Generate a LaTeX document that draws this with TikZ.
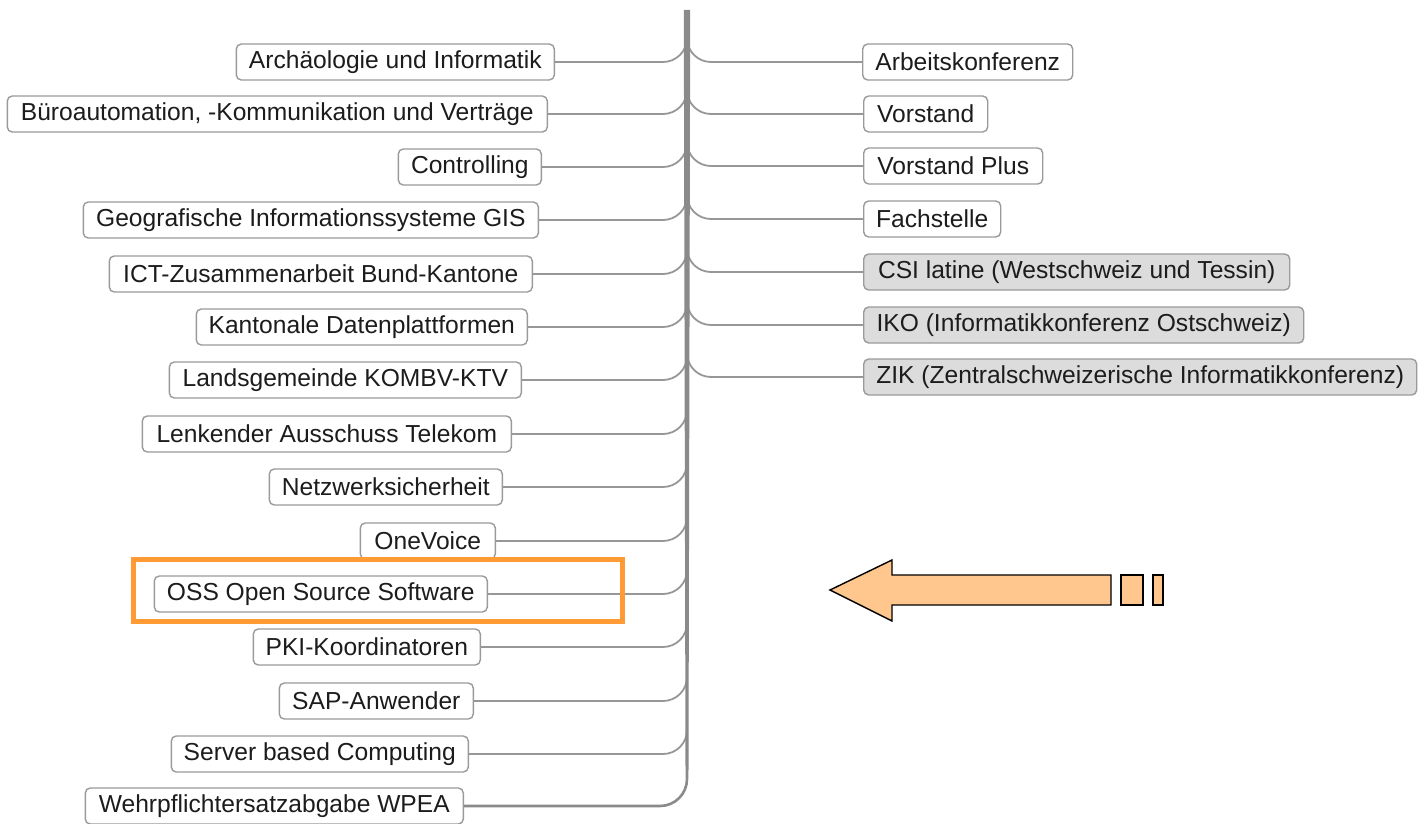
\documentclass[tikz,border=0pt]{standalone}
\usepackage{fontspec}
\setmainfont{Liberation Sans}
\definecolor{boxline}{HTML}{9A9A9A}
\definecolor{conn}{HTML}{979797}
\definecolor{trunkc}{HTML}{8A8A8A}
\definecolor{grayfill}{HTML}{DCDCDC}
\definecolor{orangehl}{HTML}{FF9A35}
\definecolor{peach}{HTML}{FFC78E}
\definecolor{txt}{HTML}{1C1C1C}
\tikzset{
  topic/.style={draw=boxline, line width=1.4pt, rounded corners=5pt, fill=white,
    minimum height=36pt, inner sep=0pt, text=txt,
    font=\fontsize{24.6}{29}\selectfont},
  ltopic/.style={topic, anchor=east},
  rtopic/.style={topic, anchor=west},
  gtopic/.style={rtopic, fill=grayfill},
  link/.style={draw=conn, line width=1.8pt, rounded corners=24pt},
}
\begin{document}
\begin{tikzpicture}[x=1pt,y=-1pt]
\useasboundingbox (0,0) rectangle (1424,824);
% trunk
\coordinate (ttop) at (687,10);
\coordinate (tbot) at (687,770);
% left nodes
\node[ltopic, minimum width=318] (L1) at (555,62) {Archäologie und Informatik};
\node[ltopic, minimum width=540] (L2) at (548,114) {Büroautomation, -Kommunikation und Verträge};
\node[ltopic, minimum width=143] (L3) at (542,167) {Controlling};
\node[ltopic, minimum width=455] (L4) at (539,220) {Geografische Informationssysteme GIS};
\node[ltopic, minimum width=423] (L5) at (533,274) {ICT-Zusammenarbeit Bund-Kantone};
\node[ltopic, minimum width=331] (L6) at (528,327) {Kantonale Datenplattformen};
\node[ltopic, minimum width=352] (L7) at (522,380) {Landsgemeinde KOMBV-KTV};
\node[ltopic, minimum width=369] (L8) at (512,434) {Lenkender Ausschuss Telekom};
\node[ltopic, minimum width=233] (L9) at (503,487) {Netzwerksicherheit};
\node[ltopic, minimum width=135] (L10) at (496,541) {OneVoice};
\node[ltopic, minimum width=333] (L11) at (488,594) {OSS Open Source Software};
\node[ltopic, minimum width=227] (L12) at (481,647) {PKI-Koordinatoren};
\node[ltopic, minimum width=194] (L13) at (474,701) {SAP-Anwender};
\node[ltopic, minimum width=297] (L14) at (469,754) {Server based Computing};
\node[ltopic, minimum width=378] (L15) at (464,806) {Wehrpflichtersatzabgabe WPEA};
% right nodes
\node[rtopic, minimum width=210] (R1) at (862,62) {Arbeitskonferenz};
\node[rtopic, minimum width=124] (R2) at (863,114) {Vorstand};
\node[rtopic, minimum width=179] (R3) at (863,166) {Vorstand Plus};
\node[rtopic, minimum width=137] (R4) at (863,219) {Fachstelle};
\node[gtopic, minimum width=426] (R5) at (863,272) {CSI latine (Westschweiz und Tessin)};
\node[gtopic, minimum width=440] (R6) at (863,325) {IKO (Informatikkonferenz Ostschweiz)};
\node[gtopic, minimum width=553] (R7) at (863,377) {ZIK (Zentralschweizerische Informatikkonferenz)};
% junction points on the trunk
\foreach \i/\y in {1/62,2/114,3/167,4/220,5/274,6/327,7/380,8/434,9/487,10/541,11/594,12/647,13/701,14/754}
  \coordinate (jL\i) at (687,\y-36);
\foreach \i/\y in {1/62,2/114,3/166,4/219,5/272,6/325,7/377}
  \coordinate (jR\i) at (687,\y-36);
% connectors
\begin{scope}[on background layer/.style={}]
\foreach \i in {1,...,14}
  \draw[link] (L\i.east) -| (jL\i);
\foreach \i in {1,...,7}
  \draw[link] (jR\i) |- (R\i.west);
\end{scope}
\draw[draw=trunkc, line width=2.6pt, rounded corners=27pt] (tbot) |- (L15.east);
\fill[trunkc] ([xshift=-3.2pt]ttop) -- ([xshift=3.2pt]ttop) -- ([xshift=1.5pt]tbot) -- ([xshift=-1.5pt]tbot) -- cycle;
% redraw nodes above connectors
% highlight frame
\draw[orangehl, line width=5pt] (133,559) rectangle (622,621);
% arrow
\draw[fill=peach, line width=1.4pt, line join=miter] (830,590) -- (892,560) -- (892,575) -- (1111,575) -- (1111,605) -- (892,605) -- (892,621) -- cycle;
\draw[fill=peach, line width=1.4pt] (1121,575) rectangle (1143,605);
\draw[fill=peach, line width=1.4pt] (1153,575) rectangle (1163,605);
\end{tikzpicture}
\end{document}
